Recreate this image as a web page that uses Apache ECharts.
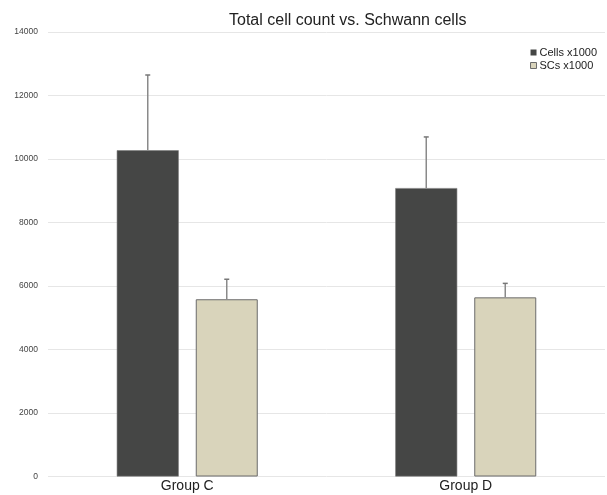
<!DOCTYPE html>
<html>
<head>
<meta charset="utf-8">
<script src="https://cdn.jsdelivr.net/npm/echarts@6/dist/echarts.min.js"></script>
<style>html,body{margin:0;padding:0;background:#fff}#c{width:607px;height:495px}</style>
</head>
<body>
<div id="c"></div>
<script>
var categories = ["Group C", "Group D"];
var cellsMean = [10270, 9080];
var cellsErrTop = [12640, 10690];
var scsMean = [5580, 5640];
var scsErrTop = [6210, 6080];
var yTicks = [0, 2000, 4000, 6000, 8000, 10000, 12000, 14000];

var BAR_W = 62, GAP = 17;
function errSeries(name, tops, means, side) {
  return {
    type: 'custom', name: name + ' err', silent: true, z: 5,
    data: categories.map(function (c, i) { return [i, means[i], tops[i]]; }),
    renderItem: function (params, api) {
      var base = api.coord([api.value(0), api.value(1)]);
      var top = api.coord([api.value(0), api.value(2)]);
      var x = base[0] + side * (BAR_W / 2 + GAP / 2);
      return {
        type: 'group', children: [
          { type: 'line', shape: { x1: x, y1: base[1], x2: x, y2: top[1] }, style: { stroke: '#8a8a8a', lineWidth: 1.5 } },
          { type: 'line', shape: { x1: x - 2.5, y1: top[1], x2: x + 2.5, y2: top[1] }, style: { stroke: '#777', lineWidth: 1.5 } }
        ]
      };
    }
  };
}

var chart = echarts.init(document.getElementById('c'));
chart.setOption({
  animation: false,
  backgroundColor: '#fff',
  textStyle: { fontFamily: 'Liberation Sans, Arial, sans-serif' },
  title: {
    text: 'Total cell count vs. Schwann cells',
    left: 224, top: 8,
    textStyle: { fontSize: 16, fontWeight: 'normal', color: '#222', fontFamily: 'Liberation Sans' }
  },
  legend: {
    orient: 'vertical', right: 5, top: 42,
    icon: 'rect',
    itemWidth: 6, itemHeight: 6, itemGap: 2,
    textStyle: { fontSize: 11, color: '#222', padding: [0, 0, 0, -2] },
    data: [
      { name: 'Cells x1000', itemStyle: { borderWidth: 0 } },
      { name: 'SCs x1000', itemStyle: { borderColor: '#6b6b6b', borderWidth: 1 } }
    ]
  },
  grid: { left: 48, right: 2, top: 31.8, bottom: 18.5 },
  xAxis: {
    type: 'category', data: categories,
    axisLine: { show: false }, axisTick: { show: false },
    axisLabel: { fontSize: 14, color: '#222', margin: 3 }
  },
  yAxis: {
    type: 'value', min: yTicks[0], max: yTicks[yTicks.length - 1], interval: yTicks[1] - yTicks[0],
    axisLine: { show: false }, axisTick: { show: false },
    axisLabel: { fontSize: 8.5, color: '#444', margin: 10, formatter: function (v) { return String(v); } },
    splitLine: { lineStyle: { color: '#e6e6e6', width: 1 } }
  },
  series: [
    { name: 'Cells x1000', type: 'bar', data: cellsMean, barWidth: BAR_W, barGap: (GAP / BAR_W * 100) + '%',
      itemStyle: { color: '#454645', borderColor: '#7a7a7a', borderWidth: 0.6 } },
    { name: 'SCs x1000', type: 'bar', data: scsMean, barWidth: BAR_W,
      itemStyle: { color: '#d9d4bb', borderColor: '#6b6b6b', borderWidth: 1 } },
    errSeries('Cells x1000', cellsErrTop, cellsMean, -1),
    errSeries('SCs x1000', scsErrTop, scsMean, 1)
  ]
});
</script>
</body>
</html>
